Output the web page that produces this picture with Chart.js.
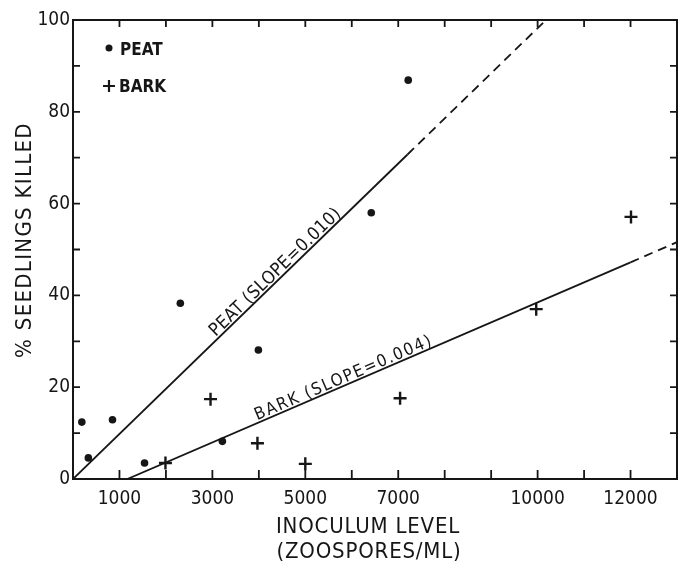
<!DOCTYPE html>
<html>
<head>
<meta charset="utf-8">
<script src="https://cdn.jsdelivr.net/npm/chart.js@4.4.1/dist/chart.umd.min.js"></script>
<style>
  html, body { margin: 0; padding: 0; background: #fff; }
  #wrap { width: 680px; height: 562px; }
</style>
</head>
<body>
<div id="wrap"><canvas id="seedlingChart" width="680" height="562"></canvas></div>
<script>
// values
const peatX = [190, 330, 850, 1540, 2310, 3215, 3990, 6420, 7215];
const peatY = [12.4, 4.6, 12.9, 3.5, 38.3, 8.2, 28.1, 58.0, 86.9];
const barkX = [1990, 2960, 3970, 5000, 7040, 9970, 12010];
const barkY = [3.5, 17.4, 7.8, 3.3, 17.6, 37.0, 57.1];
const peatFitX = [0, 7200, 10180];
const peatFitY = [0, 70.7, 100];
const barkFitX = [1170, 12000, 13000];
const barkFitY = [0, 47.2, 51.6];
const xTickLabels = [1000, 3000, 5000, 7000, 10000, 12000];
const yTickLabels = [0, 20, 40, 60, 80, 100];

const ink = '#161616';
const face = "'DejaVu Sans Condensed', 'Liberation Sans Narrow', Roboto, sans-serif";

function pts(xs, ys) {
  return xs.map((x, i) => ({ x: x, y: ys[i] }));
}

function fitLine(xs, ys, from, to, dashed) {
  return {
    data: pts(xs.slice(from, to + 1), ys.slice(from, to + 1)),
    showLine: true,
    borderColor: ink,
    borderWidth: 1.8,
    borderDash: dashed ? [9, 6] : [],
    pointRadius: 0,
    pointHoverRadius: 0
  };
}

// text that sits on a fitted line, rotated with it
function labelOnLine(ctx, chart, text, xs, ys, atX, offset, spacing) {
  const sx = chart.scales.x, sy = chart.scales.y;
  const x0 = sx.getPixelForValue(xs[0]), y0 = sy.getPixelForValue(ys[0]);
  const x1 = sx.getPixelForValue(xs[1]), y1 = sy.getPixelForValue(ys[1]);
  const ang = Math.atan2(y1 - y0, x1 - x0);
  const t = (atX - xs[0]) / (xs[1] - xs[0]);
  ctx.save();
  ctx.translate(x0 + t * (x1 - x0), y0 + t * (y1 - y0));
  ctx.rotate(ang);
  ctx.letterSpacing = spacing;
  ctx.textAlign = 'center';
  ctx.textBaseline = 'alphabetic';
  ctx.fillText(text, 0, -offset);
  ctx.restore();
}

const decor = {
  id: 'decor',
  afterDraw(chart) {
    const ctx = chart.ctx;
    const a = chart.chartArea;
    const sx = chart.scales.x, sy = chart.scales.y;
    ctx.save();
    ctx.strokeStyle = ink;
    ctx.fillStyle = ink;

    // frame
    ctx.lineWidth = 2;
    ctx.strokeRect(a.left, a.top, a.right - a.left, a.bottom - a.top);

    // inward tick marks on all four sides
    ctx.lineWidth = 1.8;
    ctx.beginPath();
    sx.ticks.forEach(t => {
      if (t.value <= sx.min || t.value >= sx.max) return;
      const px = sx.getPixelForValue(t.value);
      ctx.moveTo(px, a.bottom); ctx.lineTo(px, a.bottom - 9);
      ctx.moveTo(px, a.top); ctx.lineTo(px, a.top + 7);
    });
    sy.ticks.forEach(t => {
      if (t.value <= sy.min || t.value >= sy.max) return;
      const py = sy.getPixelForValue(t.value);
      ctx.moveTo(a.left, py); ctx.lineTo(a.left + 7, py);
      ctx.moveTo(a.right, py); ctx.lineTo(a.right - 7, py);
    });
    ctx.stroke();

    // legend
    ctx.font = 'bold 17px ' + face;
    ctx.textAlign = 'left';
    ctx.textBaseline = 'alphabetic';
    ctx.beginPath();
    ctx.arc(109, 48, 3.5, 0, Math.PI * 2);
    ctx.fill();
    ctx.fillText('PEAT', 120, 55);
    ctx.lineWidth = 2.2;
    ctx.beginPath();
    ctx.moveTo(103, 86); ctx.lineTo(115, 86);
    ctx.moveTo(109, 80); ctx.lineTo(109, 92);
    ctx.stroke();
    ctx.fillText('BARK', 119, 92);

    // line labels
    ctx.font = '18px ' + face;
    labelOnLine(ctx, chart, 'PEAT (SLOPE=0.010)', peatFitX, peatFitY, 4470, 2.5, '0.4px');
    ctx.font = '17px ' + face;
    labelOnLine(ctx, chart, 'BARK (SLOPE=0.004)', barkFitX, barkFitY, 5890, 2.5, '1.6px');

    // axis titles
    ctx.font = '22px ' + face;
    ctx.letterSpacing = '0.8px';
    ctx.textAlign = 'center';
    ctx.textBaseline = 'middle';
    ctx.fillText('INOCULUM LEVEL', 368, 527);
    ctx.fillText('(ZOOSPORES/ML)', 369, 552);
    ctx.letterSpacing = '1.3px';
    ctx.translate(25, 240);
    ctx.rotate(-Math.PI / 2);
    ctx.fillText('% SEEDLINGS KILLED', 0, 0);
    ctx.restore();
  }
};

const ctx = document.getElementById('seedlingChart').getContext('2d');
const seedlingChart = new Chart(ctx, {
  type: 'scatter',
  data: {
    datasets: [
      {
        label: 'PEAT',
        data: pts(peatX, peatY),
        pointStyle: 'circle',
        pointRadius: 3.8,
        backgroundColor: ink,
        borderColor: ink,
        borderWidth: 0
      },
      {
        label: 'BARK',
        data: pts(barkX, barkY),
        pointStyle: 'cross',
        pointRadius: 6.5,
        borderColor: ink,
        borderWidth: 2.4
      },
      fitLine(peatFitX, peatFitY, 0, 1, false),
      fitLine(peatFitX, peatFitY, 1, 2, true),
      fitLine(barkFitX, barkFitY, 0, 1, false),
      fitLine(barkFitX, barkFitY, 1, 2, true)
    ]
  },
  options: {
    responsive: false,
    animation: false,
    devicePixelRatio: 1,
    layout: { autoPadding: false, padding: { top: 20, right: 3, left: 0, bottom: 0 } },
    plugins: {
      legend: { display: false },
      tooltip: { enabled: false }
    },
    scales: {
      x: {
        type: 'linear',
        min: 0,
        max: 13000,
        afterFit: s => { s.height = 83; s.paddingLeft = 0; s.paddingRight = 0; },
        grid: { display: false, drawTicks: false },
        border: { display: true, color: ink, width: 2 },
        ticks: {
          stepSize: 1000,
          autoSkip: false,
          maxRotation: 0,
          padding: 9,
          color: ink,
          font: { family: face, size: 19 },
          callback: v => xTickLabels.includes(v) ? String(v) : ''
        }
      },
      y: {
        min: 0,
        max: 100,
        afterFit: s => { s.width = 73; },
        grid: { display: false, drawTicks: false },
        border: { display: true, color: ink, width: 2 },
        ticks: {
          stepSize: 10,
          autoSkip: false,
          padding: 3,
          color: ink,
          font: { family: face, size: 19 },
          callback: v => yTickLabels.includes(v) ? String(v) : ''
        }
      }
    }
  },
  plugins: [decor]
});
</script>
</body>
</html>
